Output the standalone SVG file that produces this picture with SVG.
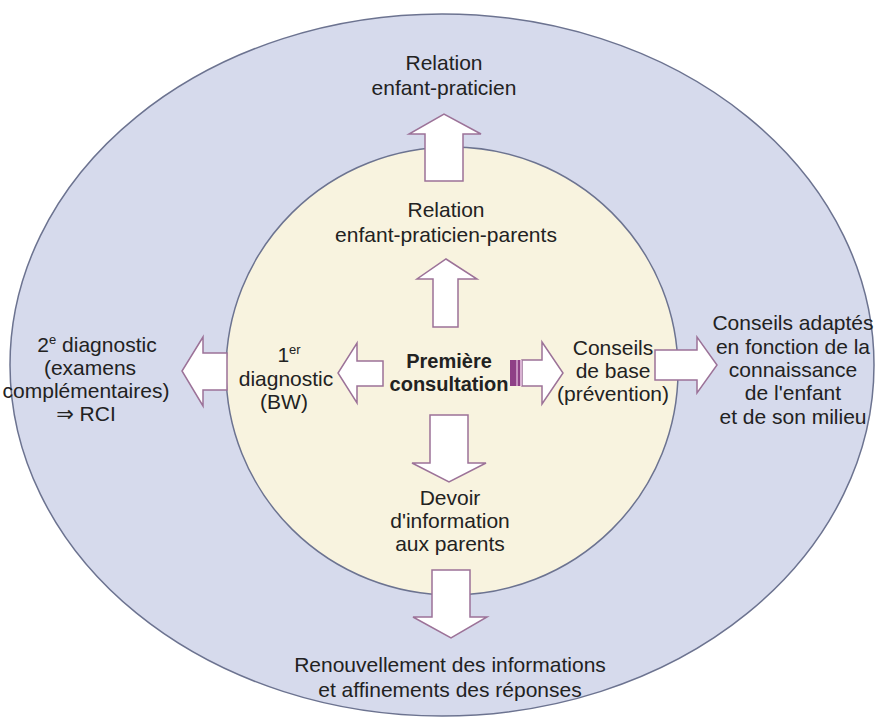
<svg xmlns="http://www.w3.org/2000/svg" width="876" height="724" viewBox="0 0 876 724">
<defs>
<style>
text{font-family:"Liberation Sans",Arial,"DejaVu Sans",sans-serif;font-size:21px;fill:#222;text-anchor:middle}
.b{font-weight:bold;font-size:20px}
.arrow{fill:#fff;stroke:#9c7298;stroke-width:1.5;stroke-linejoin:miter}
.ring{stroke:#6c7390;stroke-width:1.5}
</style>
</defs>
<rect width="876" height="724" fill="#fff"/>
<g id="outer-zone"><ellipse class="ring" cx="442" cy="365" rx="432" ry="351" fill="#d6daec"/></g>
<g id="inner-zone"><ellipse class="ring" cx="452" cy="371" rx="226" ry="224" fill="#f8f3df"/></g>
<g id="connectors">
<polygon class="arrow" points="425,181 425,134 409,134 444,114 481,134 463,134 463,181"/>
<polygon class="arrow" points="433,327 433,279 417,279 446,259 477,279 458,279 458,327"/>
<polygon class="arrow" points="383,361 357,361 357,343 338,373 357,403 357,386 383,386"/>
<polygon class="arrow" points="522,360 542,360 542,342 563,373 542,404 542,386 522,386"/>
<rect x="510" y="360" width="12" height="26" fill="#8e3f86"/>
<rect x="516" y="360" width="2" height="26" fill="#c48fbd"/>
<rect x="520" y="360" width="2" height="26" fill="#d9b3d3"/>
<polygon class="arrow" points="430,415 468,415 468,463 486,463 449,482 412,463 430,463"/>
<polygon class="arrow" points="227,353 203,353 203,337 182,371 203,406 203,390 227,390"/>
<polygon class="arrow" points="655,350 697,350 697,337 717,365 697,393 697,380 655,380"/>
<polygon class="arrow" points="432,570 470,570 470,617 487,617 451,638 413,617 432,617"/>
</g>
<g id="center"><text class="b" x="449" y="368">Première</text><text class="b" x="449" y="391">consultation</text></g>
<g id="relation-parents"><text x="446" y="217">Relation</text><text x="446" y="242">enfant-praticien-parents</text></g>
<g id="relation-enfant"><text x="444" y="70">Relation</text><text x="444" y="95">enfant-praticien</text></g>
<g id="diag1"><text x="289" y="362">1<tspan font-size="13" dy="-8">er</tspan></text><text x="286" y="386">diagnostic</text><text x="284" y="409">(BW)</text></g>
<g id="diag2"><text x="97" y="352">2<tspan font-size="13" dy="-8">e</tspan><tspan dy="8"> diagnostic</tspan></text><text x="90" y="375">(examens</text><text x="86" y="398">complémentaires)</text><text x="86" y="421">⇒ RCI</text></g>
<g id="conseils-base"><text x="613" y="355">Conseils</text><text x="613" y="378">de base</text><text x="613" y="401">(prévention)</text></g>
<g id="conseils-adaptes"><text x="793" y="330">Conseils adaptés</text><text x="793" y="354">en fonction de la</text><text x="793" y="377">connaissance</text><text x="793" y="400">de l'enfant</text><text x="793" y="424">et de son milieu</text></g>
<g id="devoir"><text x="450" y="505">Devoir</text><text x="450" y="528">d'information</text><text x="450" y="551">aux parents</text></g>
<g id="renouvellement"><text x="450" y="672">Renouvellement des informations</text><text x="450" y="697">et affinements des réponses</text></g>
</svg>
